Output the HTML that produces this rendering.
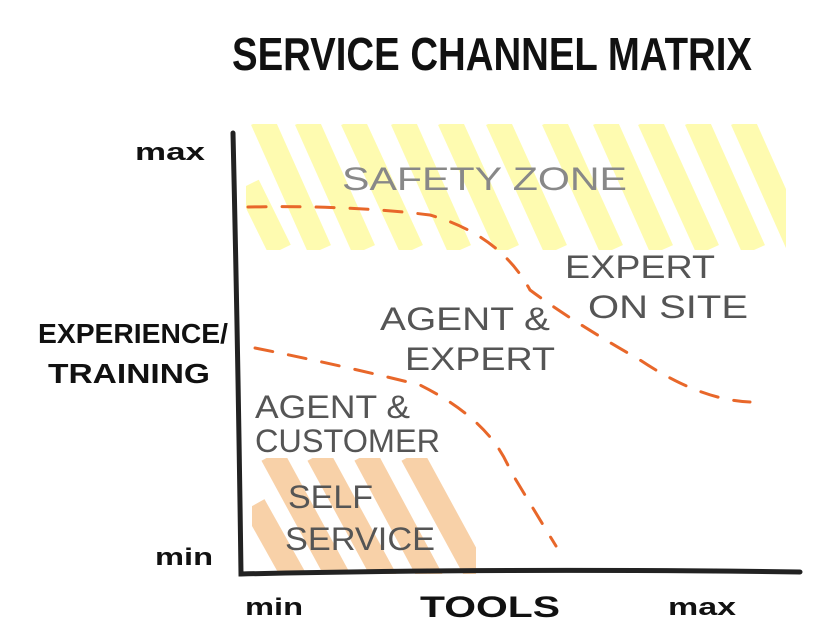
<!DOCTYPE html>
<html><head><style>
html,body{margin:0;padding:0;background:#fff;}
svg{display:block}
text{font-family:"Liberation Sans",sans-serif;}
</style></head><body>
<svg width="816" height="642" viewBox="0 0 816 642" xmlns="http://www.w3.org/2000/svg">
<defs>
<clipPath id="yc"><rect x="246" y="124" width="540" height="126"/></clipPath>
<clipPath id="oc"><rect x="252" y="458" width="224" height="116"/></clipPath>
</defs>
<g clip-path="url(#yc)" stroke="#fefbb0" stroke-width="24" fill="none">
<line x1="248" y1="185" x2="280" y2="250"/>
<line x1="262" y1="120" x2="320" y2="250"/>
<line x1="306" y1="120" x2="364" y2="250"/>
<line x1="352" y1="120" x2="412" y2="250"/>
<line x1="402" y1="120" x2="460" y2="250"/>
<line x1="449" y1="120" x2="508" y2="250"/>
<line x1="497" y1="120" x2="556" y2="250"/>
<line x1="553" y1="120" x2="612" y2="250"/>
<line x1="604" y1="120" x2="662" y2="250"/>
<line x1="649" y1="120" x2="708" y2="250"/>
<line x1="696" y1="120" x2="754" y2="250"/>
<line x1="742" y1="120" x2="800" y2="250"/>
</g>
<g clip-path="url(#oc)" stroke="#f8d1a8" stroke-width="24" fill="none">
<line x1="254" y1="505" x2="296" y2="580"/>
<line x1="272" y1="455" x2="340" y2="580"/>
<line x1="318" y1="455" x2="386" y2="580"/>
<line x1="365" y1="455" x2="432" y2="580"/>
<line x1="412" y1="455" x2="480" y2="580"/>
</g>
<text x="232" y="70" font-size="46" font-weight="bold" fill="#111" textLength="520" lengthAdjust="spacingAndGlyphs">SERVICE CHANNEL MATRIX</text>
<path d="M233 133 Q238 350 241 574 Q500 568 800 572" stroke="#222" stroke-width="5" fill="none" stroke-linecap="round"/>
<g stroke="#e8672a" stroke-width="3" fill="none" stroke-dasharray="18 16" stroke-linecap="round">
<path d="M248 207 Q350 205 430 215 Q500 235 530 290 Q570 320 640 360 Q700 400 750 402"/>
<path d="M255 348 Q340 365 420 385 Q490 420 510 470 Q540 520 556 546"/>
</g>
<g fill="#111" font-size="24" font-weight="bold">
<text x="135" y="160" textLength="70" lengthAdjust="spacingAndGlyphs">max</text>
<text x="155" y="565" textLength="58" lengthAdjust="spacingAndGlyphs">min</text>
<text x="245" y="615" textLength="58" lengthAdjust="spacingAndGlyphs">min</text>
<text x="668" y="615" textLength="68" lengthAdjust="spacingAndGlyphs">max</text>
<text x="420" y="617" font-size="30" textLength="140" lengthAdjust="spacingAndGlyphs">TOOLS</text>
<text x="38" y="343" font-size="28" textLength="190" lengthAdjust="spacingAndGlyphs">EXPERIENCE/</text>
<text x="48" y="383" font-size="28" textLength="162" lengthAdjust="spacingAndGlyphs">TRAINING</text>
</g>
<g fill="#555" font-size="32">
<text x="342" y="190" fill="#888" textLength="285" lengthAdjust="spacingAndGlyphs">SAFETY ZONE</text>
<text x="565" y="278" textLength="150" lengthAdjust="spacingAndGlyphs">EXPERT</text>
<text x="588" y="318" textLength="160" lengthAdjust="spacingAndGlyphs">ON SITE</text>
<text x="380" y="330" textLength="170" lengthAdjust="spacingAndGlyphs">AGENT &amp;</text>
<text x="405" y="370" textLength="150" lengthAdjust="spacingAndGlyphs">EXPERT</text>
<text x="255" y="418" textLength="155" lengthAdjust="spacingAndGlyphs">AGENT &amp;</text>
<text x="255" y="452" textLength="185" lengthAdjust="spacingAndGlyphs">CUSTOMER</text>
<text x="288" y="508" textLength="85" lengthAdjust="spacingAndGlyphs">SELF</text>
<text x="285" y="550" textLength="150" lengthAdjust="spacingAndGlyphs">SERVICE</text>
</g>
</svg>
</body></html>
